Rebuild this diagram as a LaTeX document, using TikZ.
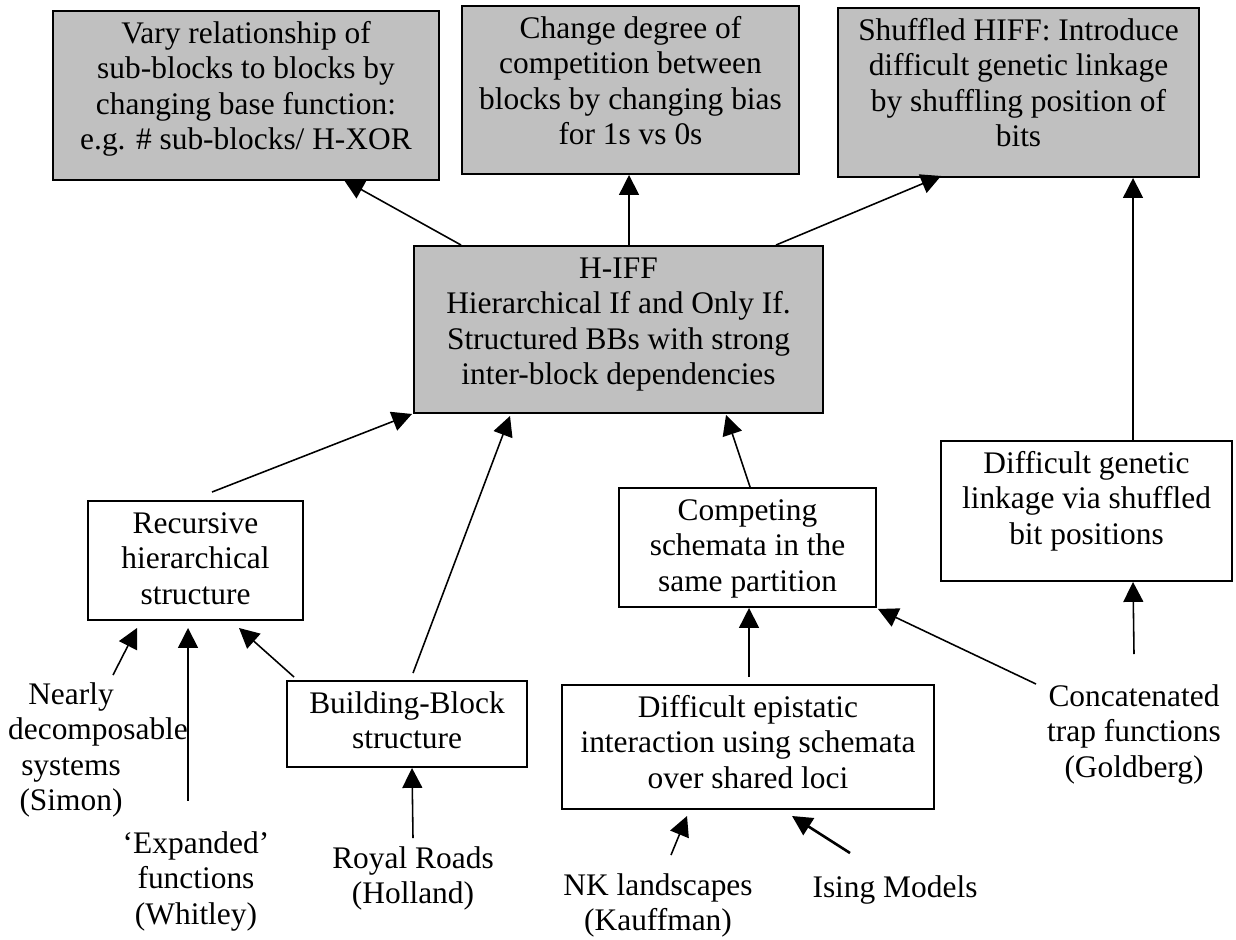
\documentclass[tikz,border=0pt]{standalone}
\usepackage{fontspec}
\setmainfont{Liberation Serif}
\usetikzlibrary{arrows.meta,calc}
\newdimen\pxu \pxu=0.382pt
\newcommand{\bxt}[3]{\parbox[c][#2\pxu][t]{#1\pxu}{\centering\vspace*{2.8pt}\strut #3\par}}
\definecolor{boxgray}{HTML}{C0C0C0}
\begin{document}
\begin{tikzpicture}[x=0.382pt,y=-0.382pt,
  font=\fontsize{12}{13.56}\selectfont,
  gbox/.style={draw, line width=0.75pt, fill=boxgray, inner sep=0pt},
  wbox/.style={draw, line width=0.75pt, fill=white, inner sep=0pt},
  lbl/.style={align=center, inner sep=0pt, anchor=north},
  arr/.style={line width=0.6pt, -{Triangle[length=7.6pt,width=7.6pt]}}]
\useasboundingbox (0,0) rectangle (1236,939);

% top row
\node[gbox] (b1) at (246,95.5) {\bxt{386}{169}{Vary relationship of\\sub-blocks to blocks by\\changing base function:\\e.g. \# sub-blocks/ H-XOR}};
\node[gbox] (b2) at (630.5,90) {\bxt{337}{168}{Change degree of\\competition between\\blocks by changing bias\\for 1s vs 0s}};
\node[gbox] (b3) at (1018.5,92.5) {\bxt{361}{169}{Shuffled HIFF: Introduce\\difficult genetic linkage\\by shuffling position of\\bits}};

% middle
\node[gbox] (hiff) at (618.5,329.5) {\bxt{409}{167}{H-IFF\\Hierarchical If and Only If.\\Structured BBs with strong\\inter-block dependencies}};

\node[wbox] (rec) at (195.5,560.5) {\bxt{215}{119}{Recursive\\hierarchical\\structure}};
\node[wbox] (comp) at (747.5,547.5) {\bxt{257}{119}{Competing\\schemata in the\\same partition}};
\node[wbox] (dgl) at (1086.5,511) {\bxt{291}{140}{Difficult genetic\\linkage via shuffled\\bit positions}};
\node[wbox] (bb) at (407,724) {\bxt{240}{86}{Building-Block\\structure}};
\node[wbox] (epi) at (748,747) {\bxt{372}{124}{Difficult epistatic\\interaction using schemata\\over shared loci}};

% free labels
\node[lbl] (near) at (71,679) {\strut Nearly\\\makebox[48pt][l]{decomposable}\\systems\\(Simon)};
\node[lbl] (expd) at (196,828) {\strut ‘Expanded’\\functions\\(Whitley)};
\node[lbl] (royal) at (413,843) {\strut Royal Roads\\(Holland)};
\node[lbl] (nk) at (658,870) {\strut NK landscapes\\(Kauffman)};
\node[lbl] (ising) at (895,872) {\strut Ising Models};
\node[lbl] (conc) at (1134,681) {\strut Concatenated\\trap functions\\(Goldberg)};

% connectors
\draw[arr] ($(hiff.north west)+(48,0)$) -- ($(b1.south west)+(292,-1)$);
\draw[arr] ($(hiff.north west)+(216,0)$) -- ($(b2.south west)+(168,0)$);
\draw[arr] ($(hiff.north west)+(363,0)$) -- ($(b3.south west)+(104,-2)$);
\draw[arr] ($(dgl.north west)+(193,0)$) -- ($(b3.south west)+(296,0)$);
\draw[arr] ($(conc.north)+(0,-27)$) -- ($(dgl.south west)+(193,0)$);
\draw[arr] ($(conc.north)+(-98,3)$) -- ($(comp.south east)+(1,1)$);
\draw[arr] ($(comp.north west)+(132,0)$) -- ($(hiff.south west)+(313,1)$);
\draw[arr] ($(epi.north west)+(188,-7)$) -- ($(comp.south west)+(131,0)$);
\draw[arr] ($(nk.north)+(13,-15)$) -- ($(epi.south west)+(126,6)$);
\draw[arr, line width=1pt] ($(ising.north)+(-45,-19)$) -- ($(epi.south west)+(231,6)$);
\draw[arr] ($(rec.north west)+(125,-8)$) -- ($(hiff.south west)+(-1,0)$);
\draw[arr] ($(near.north)+(42,-4)$) -- ($(rec.south west)+(50,7)$);
\draw[arr] ($(rec.south west)+(101,180)$) -- ($(rec.south west)+(101,7)$);
\draw[arr] ($(bb.north west)+(8,-3)$) -- ($(rec.south west)+(152,7)$);
\draw[arr] ($(bb.north west)+(127,-7)$) -- ($(hiff.south west)+(97,2)$);
\draw[arr] ($(royal.north)+(0,-5)$) -- ($(bb.south west)+(126,0)$);
\end{tikzpicture}
\end{document}
